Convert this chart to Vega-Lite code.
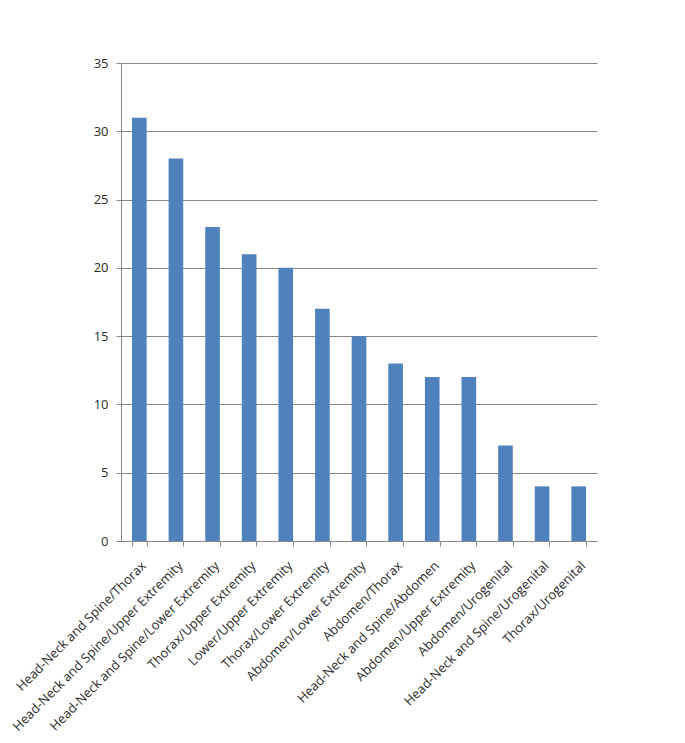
{
  "$schema": "https://vega.github.io/schema/vega-lite/v6.json",
  "width": 476,
  "height": 478,
  "autosize": {"type": "none"},
  "padding": {"left": 121, "top": 63, "right": 88, "bottom": 202},
  "background": "white",
  "config": {
    "view": {"stroke": null},
    "axis": {
      "labelFont": "Open Sans",
      "labelFontSize": 13,
      "labelColor": "#2b2b2b",
      "domainColor": "#868686",
      "tickColor": "#868686",
      "gridColor": "#868686",
      "titleFontSize": 0
    }
  },
  "data": {
    "values": [
      {"category": "Head-Neck and Spine/Thorax", "value": 31},
      {"category": "Head-Neck and Spine/Upper Extremity", "value": 28},
      {"category": "Head-Neck and Spine/Lower Extremity", "value": 23},
      {"category": "Thorax/Upper Extremity", "value": 21},
      {"category": "Lower/Upper Extremity", "value": 20},
      {"category": "Thorax/Lower Extremity", "value": 17},
      {"category": "Abdomen/Lower Extremity", "value": 15},
      {"category": "Abdomen/Thorax", "value": 13},
      {"category": "Head-Neck and Spine/Abdomen", "value": 12},
      {"category": "Abdomen/Upper Extremity", "value": 12},
      {"category": "Abdomen/Urogenital", "value": 7},
      {"category": "Head-Neck and Spine/Urogenital", "value": 4},
      {"category": "Thorax/Urogenital", "value": 4}
    ]
  },
  "mark": {"type": "bar", "color": "#4F81BD"},
  "encoding": {
    "x": {
      "field": "category",
      "type": "nominal",
      "sort": null,
      "title": null,
      "scale": {"paddingInner": 0.6, "paddingOuter": 0.3},
      "axis": {
        "labelAngle": -45,
        "labelAlign": "right",
        "labelBaseline": "top",
        "tickBand": "extent",
        "tickSize": 5,
        "labelPadding": 13,
        "labelDx": -7,
        "labelOverlap": false,
        "labelLimit": 400
      }
    },
    "y": {
      "field": "value",
      "type": "quantitative",
      "title": null,
      "scale": {"domain": [0, 35], "nice": false},
      "axis": {
        "values": [0, 5, 10, 15, 20, 25, 30, 35],
        "tickSize": 5,
        "labelPadding": 8,
        "grid": true
      }
    }
  }
}
